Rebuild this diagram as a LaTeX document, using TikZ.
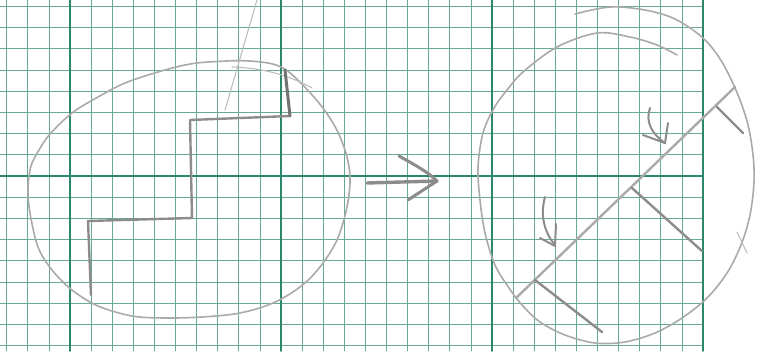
\documentclass[tikz,border=0pt]{standalone}
\definecolor{gmin}{RGB}{105,170,150}
\definecolor{gmaj}{RGB}{45,135,110}
\definecolor{pfaint}{RGB}{190,190,190}
\definecolor{plight}{RGB}{170,170,170}
\definecolor{pmid}{RGB}{140,140,140}
\definecolor{pdark}{RGB}{115,115,115}
\tikzset{
  minorline/.style={gmin,line width=0.75pt},
  majorline/.style={gmaj,line width=1.6pt},
  faintpen/.style={pfaint,line width=1.1pt},
  lightpen/.style={plight,line width=1.6pt},
  midpen/.style={pmid,line width=2.4pt},
  darkpen/.style={pdark,line width=3pt}
}
\begin{document}
\begin{tikzpicture}[x=1pt,y=-1pt,line cap=round,line join=round]
\useasboundingbox (0,0) rectangle (770,351);
\fill[white] (0,0) rectangle (770,351);
% grid
\foreach \k in {-3,...,29} {\draw[minorline] ({70+21.1*\k},0) -- ({70+21.1*\k},351);}
\foreach \k in {-8,...,8} {\draw[minorline] (0,{176+21.2*\k}) -- (703,{176+21.2*\k});}
\foreach \k in {0,...,3} {\draw[majorline] ({70+211*\k},0) -- ({70+211*\k},351);}
\draw[majorline] (0,176) -- (703,176);
% left oval
\draw[lightpen] plot[smooth cycle,tension=0.55] coordinates {
 (208,62) (250,61) (283,68) (313,96) (333,123) (345,150) (350,177) (347,207) (337,240)
 (320,267) (300,287) (273,303) (240,313) (202,317) (165,318) (132,316) (98,306) (72,290)
 (52,270) (38,247) (30,213) (28,188) (31,166) (39,150) (50,134) (72,113) (98,97) (125,83)
 (158,72) (185,65)};
\draw[faintpen] (232,67) .. controls (265,68) and (290,76) .. (312,88);
\draw[faintpen] (257,0) -- (225,110);
% staircase
\coordinate (s0) at (91,295);
\coordinate (s1) at (88,221);
\coordinate (s2) at (192,218);
\coordinate (s3) at (190,120);
\coordinate (s4) at (290,116);
\coordinate (s5) at (285,70);
\draw[midpen] (s0) -- (s1) -- (s2) -- (s3) -- (s4);
\draw[darkpen] (s4) -- (s5);
% big arrow
\coordinate (a0) at (367,183);
\coordinate (a1) at (437,181);
\draw[darkpen,pmid,line width=3.4pt] (a0) -- (a1);
\draw[darkpen,pmid] (399,156) .. controls (415,165) and (428,172) .. (a1);
\draw[darkpen,pmid] (a1) -- (408,200);
% right oval (open stroke, ends overlapping at the top)
\draw[lightpen] plot[smooth,tension=0.55] coordinates {
 (575,14) (610,7) (645,10) (675,19) (703,38) (722,62) (738,95) (748,125) (753,155)
 (754,182) (750,215) (741,245) (727,273) (707,298) (682,318) (655,333) (625,342)
 (595,343) (565,335) (540,322) (522,305) (509,288) (495,265) (485,233)
 (480,200) (478,167) (483,133) (494,108) (507,90) (523,72) (557,47) (597,33) (630,37)
 (657,45) (677,55)};
\draw[faintpen] (737,232) -- (747,253);
% diagonal with cross strokes
\coordinate (d0) at (516,298);
\coordinate (d1) at (735,87);
\draw[midpen,plight] (d0) -- (d1);
\draw[midpen] (717,107) -- (743,133);
\draw[midpen] (632,188) -- (702,251);
\draw[midpen] (535,280) -- (602,332);
% small curved arrows
\draw[midpen,line width=2pt] (650,108) .. controls (645,122) and (652,134) .. (665,143);
\draw[midpen,line width=2pt] (643,135) -- (665,143) -- (668,123);
\draw[midpen,line width=2pt] (545,197) .. controls (540,215) and (544,232) .. (555,245);
\draw[midpen,line width=2pt] (540,238) -- (555,246) -- (556,224);
\end{tikzpicture}
\end{document}
